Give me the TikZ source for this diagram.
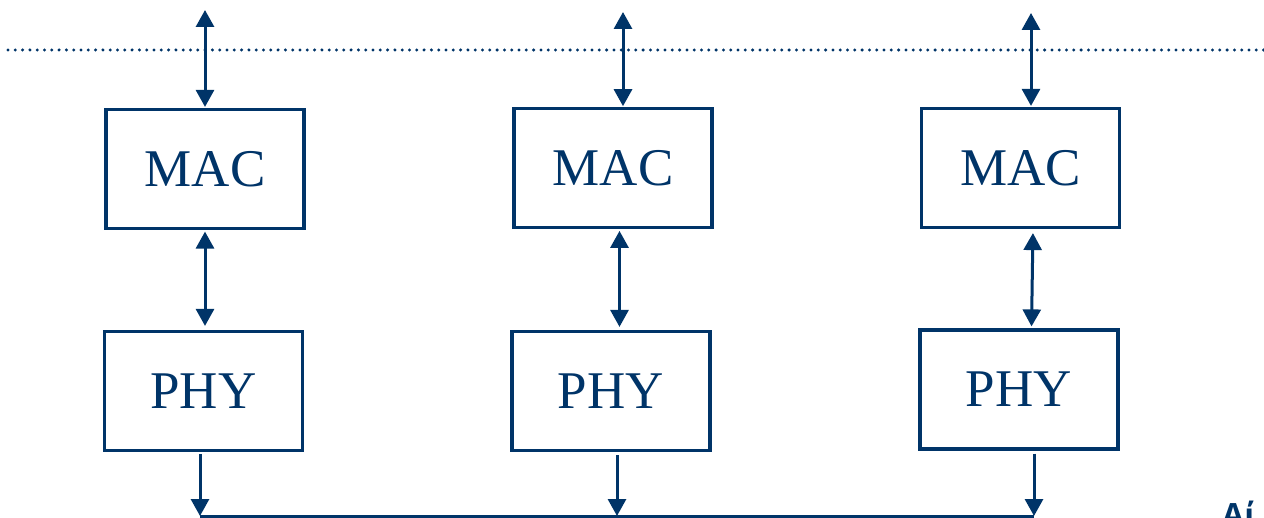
\documentclass[tikz,border=0pt]{standalone}
\usepackage{fontspec}
\setmainfont{Liberation Serif}
\newfontfamily\grkfont{Open Sans}
\usetikzlibrary{arrows.meta,calc}
\definecolor{navy}{RGB}{0,52,104}
\begin{document}
\begin{tikzpicture}[x=1pt,y=-1pt,
  layer/.style={draw=navy,line width=3.2pt,fill=white,minimum width=198pt,minimum height=119pt,inner sep=0pt,
    text=navy,font=\fontsize{53}{60}\selectfont},
  conn/.style={draw=navy,line width=3pt},
  tip/.tip={Triangle[width=18pt,length=17pt]},
  biarrow/.style={conn,tip-tip},
  downarrow/.style={conn,-tip}]
\useasboundingbox (0,0) rectangle (1264,518);
\begin{scope}
\clip (0,0) rectangle (1264,518);
% dotted line
\coordinate (dl) at (8,50);
\coordinate (dr) at (1266,50);
\draw[navy,line width=3.3pt,line cap=round,dash pattern=on 0pt off 7.3pt] (dl) -- (dr);
% boxes
\node[layer] (m1) at (205,169) {MAC};
\node[layer] (m2) at (613,168.3) {MAC};
\node[layer] (m3) at (1020.5,168) {MAC};
\node[layer] (p1) at (203.5,391) {PHY};
\node[layer] (p2) at (611,391) {PHY};
\node[layer] (p3) at (1019,389.5) {PHY};
% top ends
\coordinate (t1) at (205,10);
\coordinate (t2) at (623,12);
\coordinate (t3) at (1031,13);
\draw[biarrow,shorten >=1pt] (t1) -- (t1 |- m1.north);
\draw[biarrow,shorten >=1pt] (t2) -- (t2 |- m2.north);
\draw[biarrow,shorten >=1pt] (t3) -- (t3 |- m3.north);
% MAC-PHY arrows
\coordinate (c1) at (205,0);
\coordinate (c2) at (619.5,0);
\coordinate (c3a) at (1033,0);
\coordinate (c3b) at (1031.5,0);
\draw[biarrow,shorten <=1.5pt,shorten >=4pt] (c1 |- m1.south) -- (c1 |- p1.north);
\draw[biarrow,shorten <=1.5pt,shorten >=3pt] (c2 |- m2.south) -- (c2 |- p2.north);
\draw[biarrow,shorten <=4pt,shorten >=2pt] (c3a |- m3.south) -- (c3b |- p3.north);
% bus
\coordinate (b1) at (200,516);
\coordinate (b2) at (617,516);
\coordinate (b3) at (1034,516);
\draw[conn] (b1) -- (b3);
\draw[downarrow,shorten <=2pt] (b1 |- p1.south) -- (b1);
\draw[downarrow,shorten <=3pt] (b2 |- p2.south) -- (b2);
\draw[downarrow,shorten <=3pt] (b3 |- p3.south) -- (b3);
% cut-off text
\node[anchor=base west,inner sep=0pt,text=navy,font=\grkfont\bfseries\fontsize{32}{34}\selectfont] (cut) at (1222,526) {Αί};
\end{scope}
\end{tikzpicture}
\end{document}
